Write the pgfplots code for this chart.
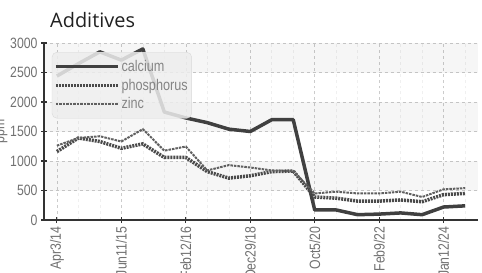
\documentclass[border=0pt]{standalone}
\usepackage{fontspec}
\setmainfont{Liberation Sans}[FakeStretch=0.82]
\newfontfamily\titlefont{Open Sans}
\usepackage{pgfplots}
\pgfplotsset{compat=1.18}
\definecolor{calc}{HTML}{404040}
\definecolor{phos}{HTML}{4A4A4A}
\definecolor{zinc}{HTML}{606060}
\definecolor{ticktext}{HTML}{707070}
\definecolor{legtext}{HTML}{858585}
\definecolor{gridc}{HTML}{CCCCCC}

\pgfplotstableread{
x calcium phosphorus zinc
0 2440 1160 1260
1 2650 1390 1390
2 2850 1330 1420
3 2710 1215 1330
4 2900 1290 1540
5 1830 1060 1175
6 1730 1060 1245
7 1650 820 840
8 1540 710 930
9 1500 750 890
10 1700 820 840
11 1700 830 830
12 170 390 450
13 170 370 480
14 90 320 450
15 100 320 450
16 120 340 480
17 90 310 390
18 220 430 520
19 240 450 540
}\datatable

\begin{document}
\begin{tikzpicture}
\begin{axis}[
  at={(0,0)}, anchor=south west,
  width=434bp, height=177bp, scale only axis,
  xmin=-0.6, xmax=19.6, ymin=0, ymax=3000,
  axis x line*=bottom, axis y line*=left,
  axis line style={black!80, line width=1.2bp},
  every tick/.style={black!80, line width=1.2bp},
  major tick length=6bp, minor tick length=0pt, tick align=center,
  xtick={0,3,...,18},
  xticklabels={Apr3/14,Jun11/15,Feb12/16,Dec29/18,Oct5/20,Feb9/22,Jan12/24},
  minor xtick={0,...,19},
  ytick={0,500,...,3000},
  /pgf/number format/assume math mode=true,
  /pgf/number format/1000 sep={},
  xmajorgrids, ymajorgrids, xminorgrids,
  major grid style={gridc, dashed, line width=0.6bp},
  minor grid style={black!6, dashed, line width=0.5bp},
  tick label style={font=\fontsize{15}{17}\selectfont, text=ticktext},
  x tick label style={rotate=90, anchor=east},
  ylabel={ppm},
  every axis y label/.style={at={(axis description cs:0,0.5)}, xshift=-42bp, rotate=90, anchor=center, font=\fontsize{15}{17}\selectfont, text=ticktext},
  legend style={at={(0.018,0.949)}, anchor=north west, draw=black!15, fill=black!7, fill opacity=0.85, text opacity=1, draw opacity=1, rounded corners=5bp, font=\fontsize{15.5}{17}\selectfont, text=legtext, inner xsep=2bp, inner ysep=6bp, row sep=2bp, nodes={inner xsep=2bp, inner ysep=2bp}},
  legend cell align=left,
  legend image code/.code={\draw[#1] (0bp,0bp) -- (62bp,0bp);},
  line join=round,
]
\fill[black, opacity=0.035] (axis cs:-0.6,2500) rectangle (axis cs:19.6,3000);
\fill[black, opacity=0.035] (axis cs:-0.6,1500) rectangle (axis cs:19.6,2000);
\fill[black, opacity=0.035] (axis cs:-0.6,500) rectangle (axis cs:19.6,1000);
\addplot[calc, line width=3.5bp, no markers] table[x=x, y=calcium] {\datatable};
\addlegendentry{calcium}
\addplot[phos, line width=3.5bp, dash pattern=on 2bp off 1bp, no markers] table[x=x, y=phosphorus] {\datatable};
\addlegendentry{phosphorus\hspace{8bp}}
\addplot[zinc, line width=2bp, dash pattern=on 2.5bp off 1bp, no markers] table[x=x, y=zinc] {\datatable};
\addlegendentry{zinc}
\end{axis}
\node[anchor=base west, font=\titlefont\fontsize{20}{24}\selectfont, text=black!87, inner sep=0pt] at (6bp,192bp) {Additives};
\pgfresetboundingbox
\useasboundingbox (-44bp,-53bp) rectangle (438bp,220bp);
\end{tikzpicture}
\end{document}
